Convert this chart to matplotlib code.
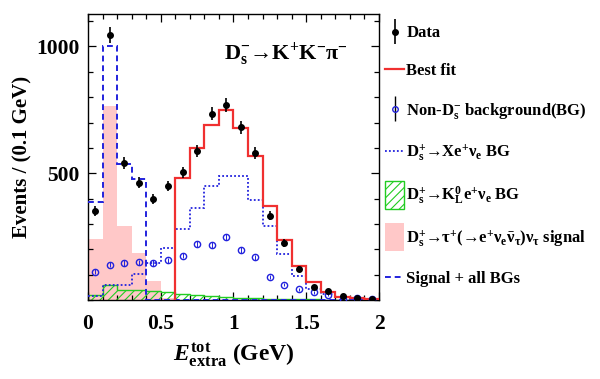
import numpy as np
import matplotlib
matplotlib.use("Agg")
import matplotlib.pyplot as plt
from matplotlib.lines import Line2D
from matplotlib.patches import Patch, Rectangle
from matplotlib.legend_handler import HandlerErrorbar, HandlerPatch

plt.rcParams['font.family'] = ['Liberation Serif', 'DejaVu Serif']
plt.rcParams['font.weight'] = 'bold'
plt.rcParams['mathtext.fontset'] = 'custom'
plt.rcParams['mathtext.rm'] = 'Liberation Serif:bold'
plt.rcParams['mathtext.bf'] = 'Liberation Serif:bold'
plt.rcParams['mathtext.it'] = 'Liberation Serif:italic:bold'
plt.rcParams['mathtext.default'] = 'rm'
plt.rcParams['hatch.linewidth'] = 0.8
plt.rcParams['hatch.color'] = '#44cc44'

# ---------------- data ----------------
edges = np.round(np.arange(0, 2.0001, 0.1), 2)          # 20 bins, 0.1 GeV
centers = np.round(edges[:-1] + 0.05, 2)

data_vals = [351, 1044, 540, 463, 398, 450, 504, 589, 735, 768,
             681, 580, 333, 225, 122, 50, 34, 15, 6, 3]
data_errs = [19, 32, 23, 22, 20, 21, 22, 24, 27, 28,
             26, 24, 18, 15, 11, 7, 6, 4, 3, 2]

nonds_vals = [112, 139, 146, 149, 146, 156, 175, 222, 217, 249,
              198, 168, 91, 61, 42, 30, 18, 4, 6, 4]
nonds_errs = [9, 10, 10, 10, 10, 10, 11, 12, 12, 13,
              12, 11, 8, 7, 6, 5, 4, 2, 2, 2]

fit_edges = np.round(np.arange(0.6, 2.0001, 0.1), 2)
fit_vals = [480, 599, 692, 749, 680, 566, 372, 238, 134, 70, 33, 13, 7, 4]

xe_vals = [15, 59, 59, 102, 147, 205, 281, 363, 450, 490,
           490, 393, 293, 183, 93, 45, 25, 12, 7, 4]

kl_vals = [20, 61, 38, 41, 35, 33, 25, 21, 15, 12,
           8, 6, 4, 3, 2, 2, 1, 1, 1, 1]

sig_edges = np.round(np.arange(0, 0.6001, 0.1), 2)
sig_vals = [240, 765, 293, 187, 76, 8]

tot_vals = [385, 1003, 536, 479, 0, 0, 0, 0, 0, 0,
            0, 0, 0, 0, 0, 0, 0, 0, 0, 0]

# ---------------- figure ----------------
fig = plt.figure(figsize=(6.0, 3.79), dpi=100)
ax = fig.add_axes([88/600, 1-300/379, 291/600, 286/379])

ax.stairs(sig_vals, sig_edges, fill=True, color='#ffc8c8', lw=0, zorder=1)
ax.stairs(kl_vals, edges, fill=True, facecolor='none', edgecolor='#22cc22',
          hatch='////', lw=1.0, zorder=2)
ax.stairs(xe_vals, edges, baseline=None, color='#2222dd', lw=1.3,
          linestyle=(0, (1, 1.2)), zorder=3)
ax.stairs(tot_vals, edges, baseline=None, color='#2222dd', lw=1.4,
          linestyle=(0, (3, 2)), zorder=3)
ax.stairs(fit_vals, fit_edges, baseline=0, color='#f03030', lw=1.6, zorder=4)

ax.errorbar(centers, nonds_vals, yerr=nonds_errs, fmt='o', ms=4.5,
            mfc='none', mec='#2222dd', mew=1.0, ecolor='#2222dd',
            elinewidth=0.7, capsize=0, zorder=5)
ax.errorbar(centers, data_vals, yerr=data_errs, fmt='o', ms=4.0,
            color='black', elinewidth=1.2, capsize=0, zorder=6)

ax.set_xlim(0, 2)
ax.set_ylim(0, 1128)
ax.set_xticks([0, 0.5, 1, 1.5, 2])
ax.set_xticklabels(['0', '0.5', '1', '1.5', '2'])
ax.set_xticks(np.arange(0, 2.0001, 0.1), minor=True)
ax.set_yticks([500, 1000])
ax.set_yticks(np.arange(0, 1101, 100), minor=True)
ax.tick_params(which='both', direction='in', top=True, right=True,
               labelsize=15.5, width=0.9)
ax.tick_params(which='major', length=6)
ax.tick_params(axis='x', which='major', pad=10)
ax.tick_params(axis='y', which='major', pad=6)
ax.tick_params(which='minor', length=3.5)
for s in ax.spines.values():
    s.set_linewidth(1.0)

ax.set_xlabel(r'$\mathit{E}_{\mathrm{extra}}^{\mathrm{tot}}$ (GeV)',
              fontsize=17, fontweight='bold', labelpad=5)
ax.set_ylabel('Events / (0.1 GeV)', fontsize=15, fontweight='bold',
              labelpad=3)

ax.text(0.68, 0.86, r'D$_{s}^{-}$→K$^{+}$K$^{-}$π$^{-}$', transform=ax.transAxes,
        ha='center', va='center', fontsize=16)

h_data = ax.errorbar([np.nan], [np.nan], yerr=[1], fmt='o', ms=4,
                     color='black', elinewidth=1.2, capsize=0)
h_nonds = ax.errorbar([np.nan], [np.nan], yerr=[1], fmt='o', ms=4,
                      mfc='none', mec='#2222dd', ecolor='black',
                      elinewidth=1.0, capsize=0)


def tall_rect(legend, orig_handle, xdescent, ydescent, width, height, fontsize):
    h = height * 2.4
    return Rectangle((-xdescent, -ydescent - (h - height) / 2), width, h)


p_kl = Patch(facecolor='none', edgecolor='#22cc22', hatch='////', lw=1.0)
p_sig = Patch(facecolor='#ffc8c8', edgecolor='none')
handles = [
    h_data,
    Line2D([], [], color='#f03030', lw=1.6),
    h_nonds,
    Line2D([], [], color='#2222dd', lw=1.3, ls=(0, (1, 1.2))),
    p_kl,
    p_sig,
    Line2D([], [], color='#2222dd', lw=1.4, ls=(0, (3, 2))),
]
labels = ['Data', 'Best fit', r'Non-D$_{s}^{-}$ background(BG)',
          r'D$_{s}^{+}$→Xe$^{+}$ν$_{e}$ BG',
          r'D$_{s}^{+}$→K$_{L}^{0}$e$^{+}$ν$_{e}$ BG',
          r'D$_{s}^{+}$→τ$^{+}$(→e$^{+}$ν$_{e}\bar{\nu}_{\tau}$)ν$_{\tau}$ signal',
          'Signal + all BGs']
hmap = {h_data: HandlerErrorbar(yerr_size=0.75),
        h_nonds: HandlerErrorbar(yerr_size=0.75),
        p_kl: HandlerPatch(patch_func=tall_rect),
        p_sig: HandlerPatch(patch_func=tall_rect)}
fig.legend(handles, labels, loc='upper left', handler_map=hmap,
           bbox_to_anchor=(382/600, 1-22/379), frameon=False,
           fontsize=12, handlelength=1.1, handletextpad=0.15,
           labelspacing=1.3, borderpad=0.2, borderaxespad=0)

fig.savefig('out.png', dpi=100)
